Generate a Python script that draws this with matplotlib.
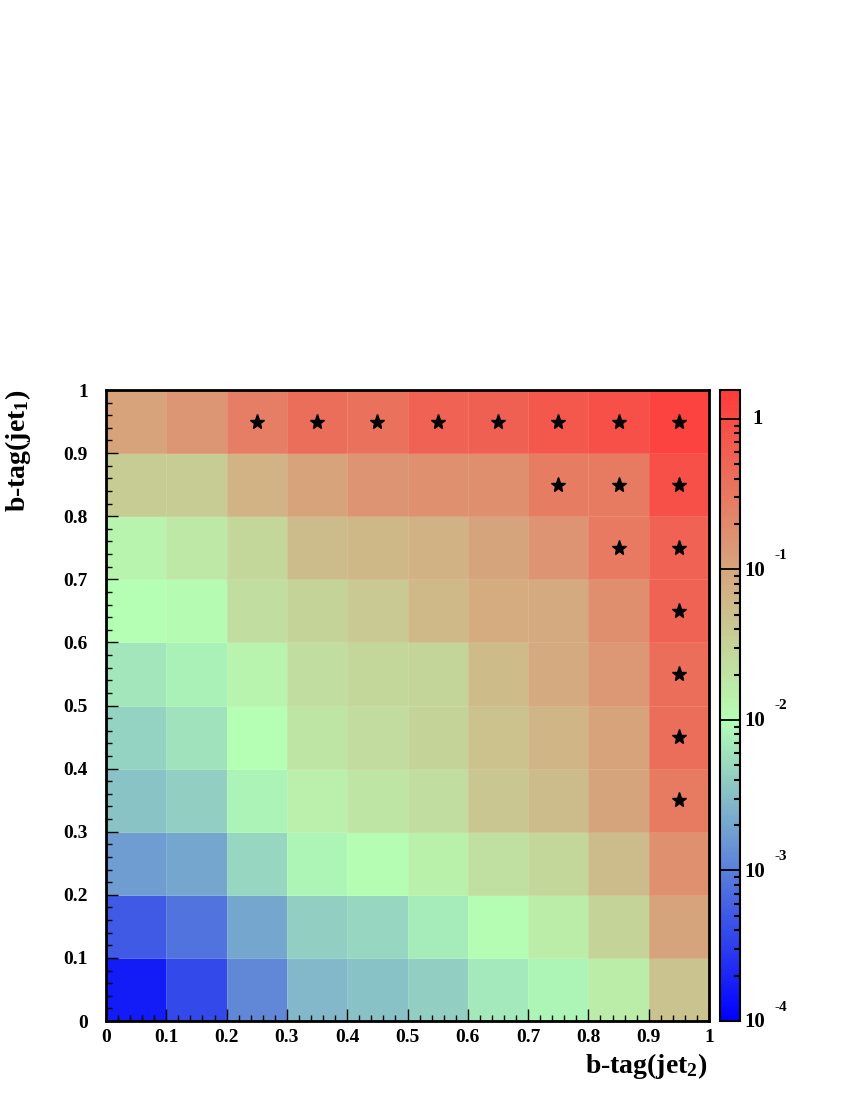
import numpy as np
import matplotlib
matplotlib.use("Agg")
import matplotlib.pyplot as plt
from matplotlib.colors import LogNorm, LinearSegmentedColormap
from matplotlib.ticker import MultipleLocator, LogLocator, NullFormatter, NullLocator


# -----------------------------
# Data
# -----------------------------
x_edges = [0.0, 0.1, 0.2, 0.3, 0.4, 0.5, 0.6, 0.7, 0.8, 0.9, 1.0]
y_edges = [0.0, 0.1, 0.2, 0.3, 0.4, 0.5, 0.6, 0.7, 0.8, 0.9, 1.0]

# rows from bottom (jet1 0-0.1) to top (jet1 0.9-1), columns jet2 0 -> 1
row_00 = [0.000166, 0.00038, 0.0012, 0.0028, 0.0033, 0.0043, 0.0068, 0.0085, 0.016, 0.045]
row_01 = [0.00052, 0.00082, 0.0020, 0.0043, 0.0048, 0.0069, 0.0105, 0.016, 0.030, 0.100]
row_02 = [0.0017, 0.0020, 0.0048, 0.0085, 0.0105, 0.014, 0.022, 0.028, 0.055, 0.17]
row_03 = [0.0034, 0.0043, 0.0080, 0.015, 0.019, 0.024, 0.042, 0.055, 0.100, 0.29]
row_04 = [0.0044, 0.0060, 0.0100, 0.019, 0.025, 0.030, 0.048, 0.063, 0.105, 0.40]
row_05 = [0.0065, 0.0077, 0.013, 0.023, 0.028, 0.029, 0.057, 0.086, 0.14, 0.40]
row_06 = [0.0100, 0.011, 0.023, 0.030, 0.039, 0.060, 0.083, 0.088, 0.18, 0.52]
row_07 = [0.013, 0.018, 0.028, 0.056, 0.062, 0.073, 0.100, 0.155, 0.30, 0.55]
row_08 = [0.036, 0.037, 0.068, 0.105, 0.150, 0.170, 0.180, 0.28, 0.29, 0.85]
row_09 = [0.105, 0.148, 0.27, 0.40, 0.38, 0.54, 0.58, 0.71, 0.88, 1.23]

# starred bins (bin centres)
star_x = [0.25, 0.35, 0.45, 0.55, 0.65, 0.75, 0.85, 0.95,
          0.75, 0.85, 0.95, 0.85, 0.95, 0.95, 0.95, 0.95, 0.95]
star_y = [0.95, 0.95, 0.95, 0.95, 0.95, 0.95, 0.95, 0.95,
          0.85, 0.85, 0.85, 0.75, 0.75, 0.65, 0.55, 0.45, 0.35]

z_min = 1e-4
z_max = 1.55
cbar_decades = [1e-4, 1e-3, 1e-2, 1e-1, 1.0]
cbar_exponents = ["-4", "-3", "-2", "-1", ""]

x_title = "b-tag(jet$_{2}$)"
y_title = "b-tag(jet$_{1}$)"


def make_cmap():
    # blue -> light green (at 1e-2) -> red, in log-normalised space
    f_green = (np.log10(1e-2) - np.log10(z_min)) / (np.log10(z_max) - np.log10(z_min))
    nodes = [
        (0.0, (0.0, 0.0, 1.0)),
        (f_green, (180 / 255, 255 / 255, 180 / 255)),
        (1.0, (255 / 255, 58 / 255, 58 / 255)),
    ]
    return LinearSegmentedColormap.from_list("root_like", nodes)


def main():
    plt.rcParams["font.family"] = ["Liberation Serif", "DejaVu Serif"]
    plt.rcParams["font.weight"] = "bold"
    plt.rcParams["mathtext.fontset"] = "custom"
    plt.rcParams["mathtext.rm"] = "Liberation Serif:bold"
    plt.rcParams["mathtext.it"] = "Liberation Serif:bold"
    plt.rcParams["mathtext.bf"] = "Liberation Serif:bold"

    z = np.array([row_00, row_01, row_02, row_03, row_04,
                  row_05, row_06, row_07, row_08, row_09])

    fig = plt.figure(figsize=(8.5, 11), dpi=100)
    ax = fig.add_axes([106 / 850, 1 - 1021 / 1100, 603 / 850, 631 / 1100])
    cax = fig.add_axes([720 / 850, 1 - 1021 / 1100, 20 / 850, 631 / 1100])

    cmap = make_cmap()
    norm = LogNorm(vmin=z_min, vmax=z_max)
    mesh = ax.pcolormesh(x_edges, y_edges, z, cmap=cmap, norm=norm,
                         edgecolors=(1, 1, 1, 0.12), linewidth=0.6)

    ax.plot(star_x, star_y, linestyle="none", marker="*", color="black",
            markersize=11)

    ax.set_xlim(0, 1)
    ax.set_ylim(0, 1)
    ax.xaxis.set_major_locator(MultipleLocator(0.1))
    ax.xaxis.set_minor_locator(MultipleLocator(0.02))
    ax.yaxis.set_major_locator(MultipleLocator(0.1))
    ax.yaxis.set_minor_locator(MultipleLocator(0.02))
    fmt = lambda v, p: "0" if abs(v) < 1e-9 else ("1" if abs(v - 1) < 1e-9 else f"{v:.1f}")
    ax.xaxis.set_major_formatter(plt.FuncFormatter(fmt))
    ax.yaxis.set_major_formatter(plt.FuncFormatter(fmt))
    ax.tick_params(which="both", direction="in", top=False, right=False,
                   labelsize=14, width=1)
    ax.tick_params(axis="x", which="major", length=8.5, pad=6)
    ax.tick_params(axis="x", which="minor", length=4.3)
    ax.tick_params(axis="y", which="major", length=8.5, pad=13)
    ax.tick_params(axis="y", which="minor", length=4.3)
    for lab in ax.get_xticklabels() + ax.get_yticklabels():
        lab.set_fontweight("bold")
    for s in ax.spines.values():
        s.set_linewidth(2)

    fig.text(707 / 850, 1 - 1066 / 1100, x_title, ha="right", va="center",
             fontsize=20, fontweight="bold")
    fig.text(18 / 850, 1 - 390 / 1100, y_title, ha="center", va="top",
             rotation=90, fontsize=20, fontweight="bold")

    # colour bar (ROOT style palette)
    cb = fig.colorbar(mesh, cax=cax)
    cb.outline.set_linewidth(1.5)
    cax.yaxis.set_major_locator(NullLocator())
    cax.yaxis.set_minor_locator(LogLocator(base=10, subs=np.arange(2, 10), numticks=10))
    cax.yaxis.set_major_formatter(NullFormatter())
    cax.yaxis.set_minor_formatter(NullFormatter())
    cax.tick_params(which="minor", direction="in", length=4.5, width=1.5,
                    right=True, left=False)

    ytr = cax.get_yaxis_transform()
    for dec, ex in zip(cbar_decades, cbar_exponents):
        cax.axhline(dec, color="black", linewidth=1.3)
        if ex == "":
            cax.annotate("1", xy=(1.0, dec), xycoords=ytr, xytext=(9, 0),
                         textcoords="offset points", ha="left", va="center",
                         fontsize=15, fontweight="bold")
        else:
            cax.annotate("10", xy=(1.0, dec), xycoords=ytr, xytext=(3, -1),
                         textcoords="offset points", ha="left", va="center",
                         fontsize=15, fontweight="bold")
            cax.annotate(ex, xy=(1.0, dec), xycoords=ytr, xytext=(25, 10),
                         textcoords="offset points", ha="left", va="center",
                         fontsize=11, fontweight="bold")

    fig.savefig("out.png", dpi=100, facecolor="white")
    plt.close(fig)


if __name__ == "__main__":
    main()
